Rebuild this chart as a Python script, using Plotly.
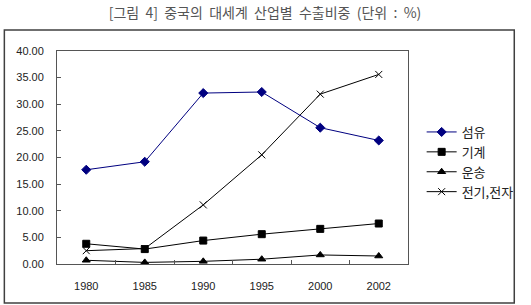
import plotly.graph_objects as go

years = ["1980", "1985", "1990", "1995", "2000", "2002"]
textile = [17.7, 19.2, 32.1, 32.3, 25.6, 23.2]
machinery = [3.8, 2.8, 4.4, 5.6, 6.6, 7.6]
transport = [0.7, 0.3, 0.5, 0.9, 1.7, 1.5]
electronics = [2.5, 2.9, 11.1, 20.5, 31.9, 35.6]
names = ["섬유", "기계", "운송", "전기,전자"]
y_ticks = [0, 5, 10, 15, 20, 25, 30, 35, 40]
title_words = ["[그림", "4]", "중국의", "대세계", "산업별", "수출비중", "(단위", ":", "%)"]

W, H = 531, 305
L, R, T, B = 57, 114, 51, 41
pw, ph = W - L - R, H - T - B

font = "Liberation Sans, Noto Sans CJK KR, sans-serif"
kfont = "Noto Sans CJK KR, sans-serif"

fig = go.Figure()
series = [
    (textile, names[0], "#000080", "diamond", 7),
    (machinery, names[1], "#000000", "square", 7),
    (transport, names[2], "#000000", "triangle-up", 7),
    (electronics, names[3], "#000000", "x-thin", 7),
]
for vals, nm, col, sym, sz in series:
    fig.add_trace(go.Scatter(
        x=years, y=vals, name=nm, mode="lines+markers",
        line=dict(color=col, width=1),
        marker=dict(symbol=sym, size=sz, color=col, line=dict(color=col, width=1)),
    ))

def px_x(p):
    return (p - L) / pw

def px_y(p):
    return (H - B - p) / ph

fig.add_shape(type="rect", xref="paper", yref="paper",
              x0=px_x(3), x1=px_x(526), y0=px_y(303), y1=px_y(30),
              line=dict(color="#404040", width=1.5), fillcolor="rgba(0,0,0,0)", layer="below")

sp = "\u00a0\u00a0"
fig.update_layout(
    width=W, height=H,
    margin=dict(l=L, r=R, t=T, b=B),
    paper_bgcolor="white", plot_bgcolor="white",
    title=dict(text=sp.join(title_words),
               x=(265) / W, xref="container", xanchor="center", y=1 - 13 / H, yanchor="middle",
               font=dict(family=kfont, size=14, color="#555555")),
    showlegend=True,
    legend=dict(x=px_x(431), y=px_y(117), xanchor="left", yanchor="top",
                font=dict(family=kfont, size=13, color="#222222"),
                tracegroupgap=0, itemwidth=30, bgcolor="rgba(0,0,0,0)"),
    xaxis=dict(
        type="category", showline=True, linecolor="#555555", linewidth=1,
        mirror=True, ticks="inside", ticklen=4, tickcolor="#555555",
        tickson="boundaries", showgrid=False, range=[-0.5, 5.5],
        ticklabelstandoff=12,
        tickfont=dict(family=font, size=11, color="#222222"),
    ),
    yaxis=dict(
        range=[0, 40], tickvals=y_ticks, ticktext=[f"{v:.2f}" for v in y_ticks],
        showline=True, linecolor="#555555", linewidth=1, mirror=True,
        ticks="inside", ticklen=4, tickcolor="#555555", showgrid=False,
        zeroline=False, ticklabelstandoff=10,
        tickfont=dict(family=font, size=11, color="#222222"),
    ),
)

fig.write_html("out.html")
